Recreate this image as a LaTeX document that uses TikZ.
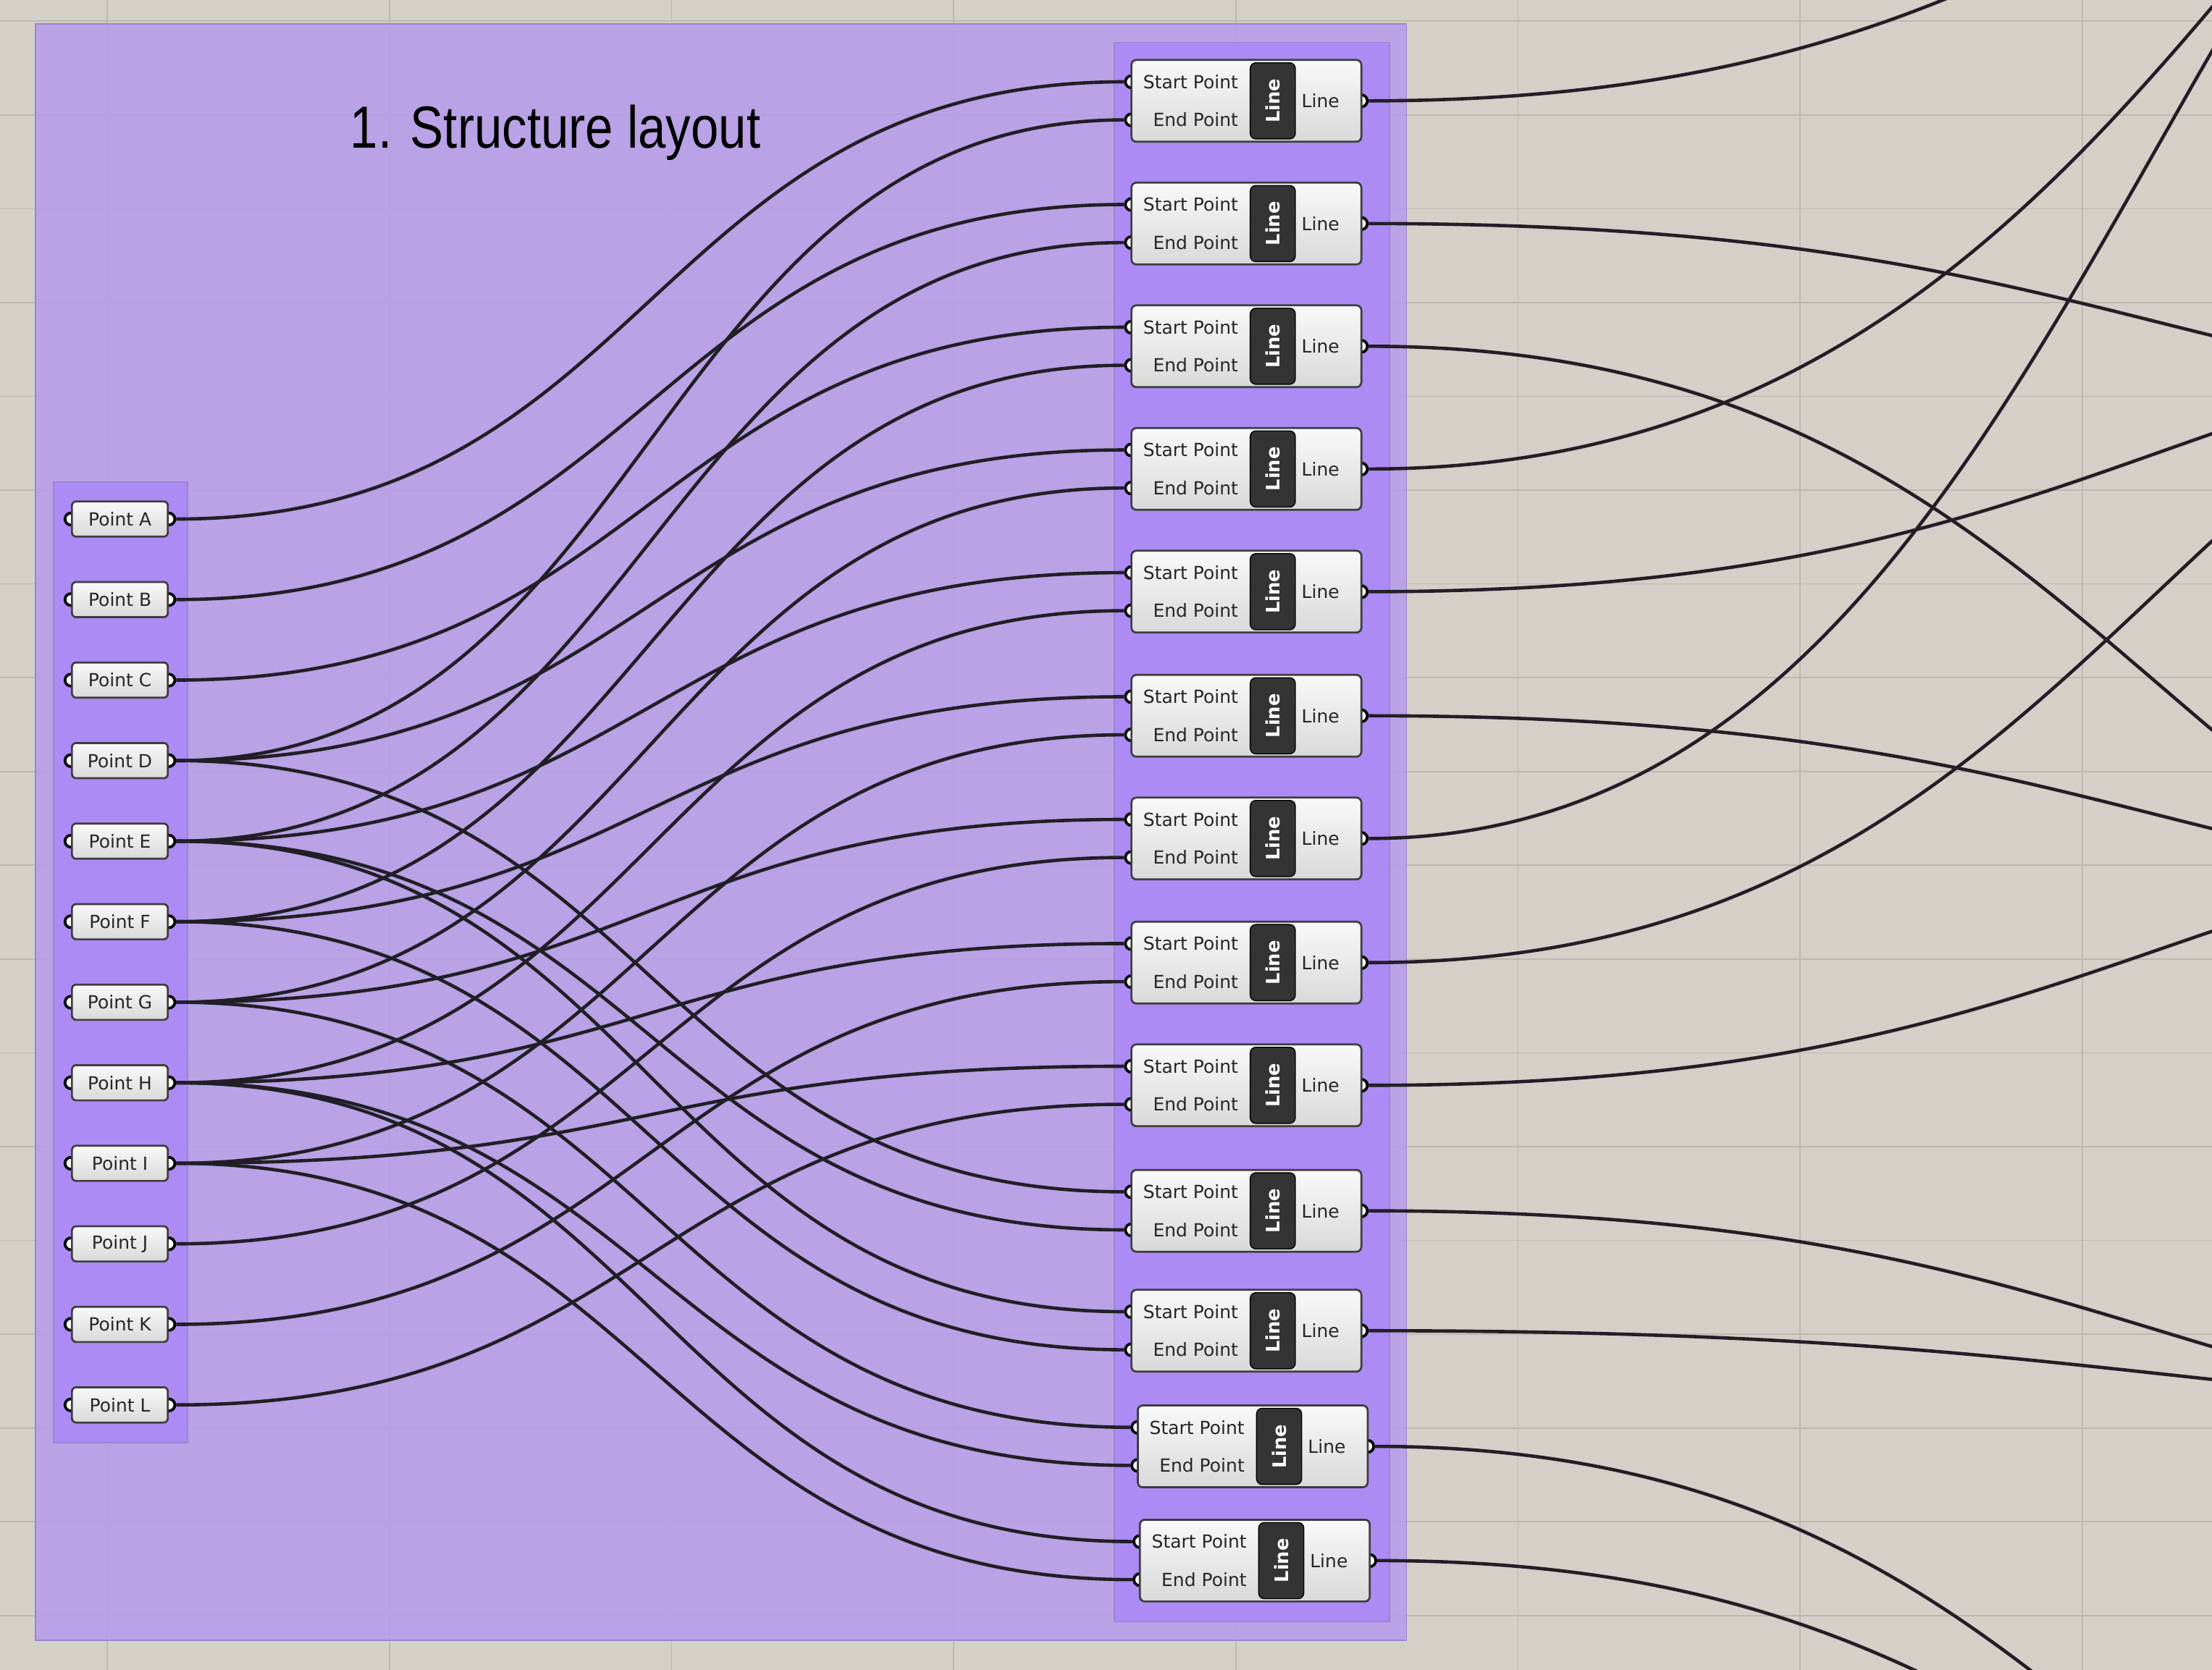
\documentclass[tikz,border=0pt]{standalone}
\usepackage{fontspec}
\setmainfont{Liberation Sans}
\newfontfamily\ghfont{DejaVu Sans}
\usepackage{graphicx}
\usetikzlibrary{calc}

\definecolor{canvasbg}{RGB}{212,208,200}
\definecolor{gridgray}{RGB}{189,185,177}
\definecolor{groupouter}{RGB}{183,157,233}
\definecolor{groupinner}{RGB}{171,137,246}
\definecolor{groupedge}{RGB}{155,132,210}
\definecolor{wiredark}{RGB}{34,30,38}
\definecolor{boxedge}{RGB}{62,62,62}
\definecolor{tagdark}{RGB}{52,52,52}

\pgfdeclarelayer{canvas}
\pgfdeclarelayer{wires}
\pgfdeclarelayer{ports}
\pgfsetlayers{canvas,wires,ports,main}

\begin{document}
\begin{tikzpicture}[
  x=0.02cm, y=-0.02cm,
  font=\ghfont\fontsize{7.3}{8}\selectfont,
  gridline/.style={draw=gridgray, line width=0.5pt},
  group/.style={draw=groupedge, line width=0.5pt, fill=#1, fill opacity=0.9},
  ptbox/.style={draw=boxedge, line width=0.8pt, rounded corners=0.06cm, top color=gray!5, bottom color=gray!30,
                minimum width=1.36cm, minimum height=0.5cm, inner sep=0pt, text=black!85},
  linebox/.style={draw=boxedge, line width=0.8pt, rounded corners=0.07cm, top color=gray!5, bottom color=gray!30,
                  minimum width=3.26cm, minimum height=1.16cm, inner sep=0pt},
  linetag/.style={draw=black, fill=tagdark, rounded corners=0.08cm, rotate=90, minimum width=1.08cm,
                  minimum height=0.64cm, inner sep=0pt, text=white, font=\ghfont\bfseries\fontsize{7.5}{8}\selectfont},
  param/.style={inner sep=0pt, text=black!85},
  port/.style={circle, draw=black, fill=white, line width=1.1pt, minimum size=0.17cm, inner sep=0pt},
  wire/.style={draw=wiredark, line width=1.35pt,
               to path={let \p1=(\tikztostart), \p2=(\tikztotarget) in
                        .. controls ({(\x1+\x2)/2},\y1) and ({(\x1+\x2)/2},\y2) .. (\tikztotarget)}},
  titletxt/.style={font=\rmfamily\fontsize{24}{28}\selectfont, inner sep=0pt},
]
\useasboundingbox (0,0) rectangle (1568,1184);

% --- Canvas, grid and groups ---
\begin{pgfonlayer}{canvas}
  \fill[canvasbg] (0,0) rectangle (1568,1184);
  \foreach \gx in {76,276,...,1476}
    \draw[gridline] (\gx,0) -- (\gx,1184);
  \foreach \k in {0,...,17}
    \draw[gridline] (0,{15+66.5*\k}) -- (1568,{15+66.5*\k});
  \draw[group=groupouter] (25,17) rectangle (997,1163);
  \draw[group=groupinner] (38,342) rectangle (133,1023);
  \draw[group=groupinner] (790,30) rectangle (985,1150);
\end{pgfonlayer}

\node[titletxt, anchor=base west] (title) at (248,105) {\scalebox{0.84}[1]{1. Structure layout}};

% --- Point parameters ---
\foreach \n [count=\i from 0] in {A,B,C,D,E,F,G,H,I,J,K,L} {
  \node[ptbox] (pt\n) at (85,{368+57.1*\i}) {Point \n};
  \begin{pgfonlayer}{ports}
    \node[port] (in\n) at (pt\n.west) {};
    \node[port] (out\n) at (pt\n.east) {};
  \end{pgfonlayer}
}

% --- Line components ---
\foreach \k/\cx/\cy in {1/883.5/71.5, 2/883.5/158.5, 3/883.5/245.5, 4/883.5/332.5, 5/883.5/419.5,
                        6/883.5/507.5, 7/883.5/594.5, 8/883.5/682.5, 9/883.5/769.5, 10/883.5/858.5,
                        11/883.5/943.5, 12/888/1025.5, 13/889.5/1106.5} {
  \node[linebox] (ln\k) at (\cx,\cy) {};
  \node[linetag] (tag\k) at ({\cx+18.7},\cy) {Line};
  \node[param, anchor=east] (sp\k) at ({\cx-5.5},{\cy-13.5}) {Start Point};
  \node[param, anchor=east] (ep\k) at ({\cx-5.5},{\cy+13.5}) {End Point};
  \node[param] (lo\k) at ({\cx+52.5},\cy) {Line};
  \begin{pgfonlayer}{ports}
    \node[port] (start\k) at ({\cx-81.5},{\cy-13.5}) {};
    \node[port] (end\k) at ({\cx-81.5},{\cy+13.5}) {};
    \node[port] (res\k) at ({\cx+81.5},\cy) {};
  \end{pgfonlayer}
}

% --- Wires ---
\begin{pgfonlayer}{wires}
  \foreach \a/\b in {outA/start1, outD/end1, outB/start2, outE/end2, outC/start3, outF/end3,
                     outD/start4, outG/end4, outE/start5, outH/end5, outF/start6, outI/end6,
                     outG/start7, outJ/end7, outH/start8, outK/end8, outI/start9, outL/end9,
                     outD/start10, outE/end10, outE/start11, outF/end11, outG/start12, outH/end12,
                     outH/start13, outI/end13} {
    \draw[wire] (\a) to (\b);
  }
  % outputs running off the canvas
  \foreach \k/\fx/\fy in {1/2150/-250, 2/2100/300, 3/2100/730, 4/2300/-480, 5/2100/220, 6/2100/650,
                          7/2100/-400, 8/2100/150, 9/2100/575, 10/2100/1030, 11/2100/1005,
                          12/2100/1500, 13/2000/1400} {
    \coordinate (far\k) at (\fx,\fy);
    \draw[wire] (res\k) to (far\k);
  }
\end{pgfonlayer}

\end{tikzpicture}
\end{document}
